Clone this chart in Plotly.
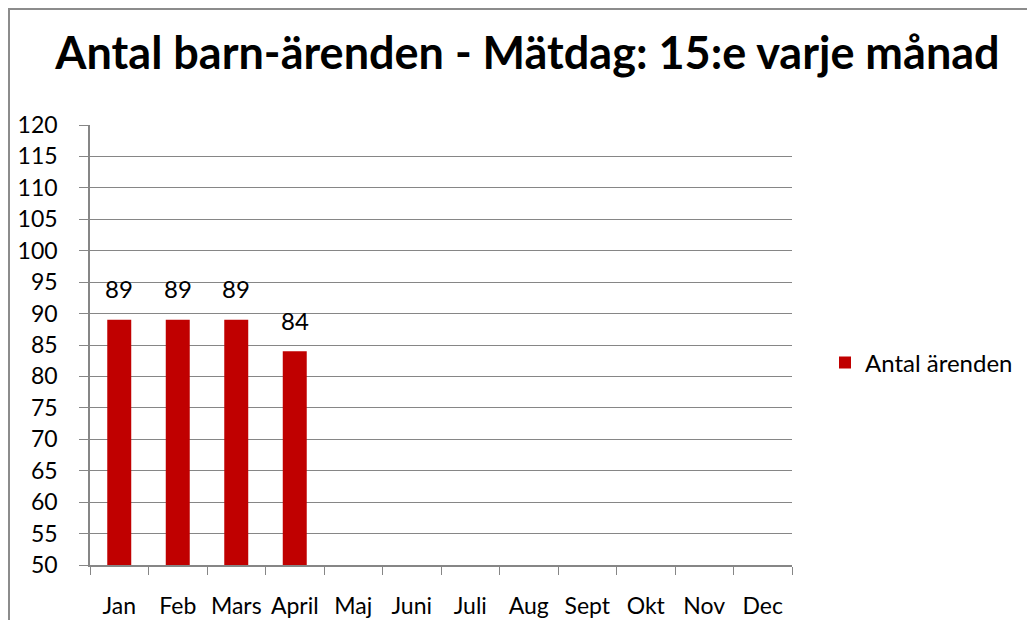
import plotly.graph_objects as go

months = ["Jan", "Feb", "Mars", "April", "Maj", "Juni", "Juli", "Aug", "Sept", "Okt", "Nov", "Dec"]
values = [89, 89, 89, 84, None, None, None, None, None, None, None, None]
labels = ["89", "89", "89", "84", "", "", "", "", "", "", "", ""]
y_ticks = list(range(50, 121, 5))

# page body has an 8px margin, so figure coords = reference coords - 8
W, H = 1027, 612
L, R, T, B = 82, 784, 117, 557

def px(x):
    return (x - L) / (R - L)

def py(y):
    return (B - y) / (B - T)

FONT = "Lato, sans-serif"

fig = go.Figure()
fig.add_trace(go.Bar(
    x=months, y=values, name="Antal ärenden",
    marker=dict(color="#C00000", line=dict(width=0)),
    showlegend=True,
))
for m, v, t in zip(months, values, labels):
    if v is not None and t:
        fig.add_annotation(x=m, y=v, text=t, showarrow=False, yshift=31,
                           xanchor="center", yanchor="middle",
                           font=dict(family=FONT, size=24, color="#000000"))

fig.update_layout(
    width=W, height=H,
    margin=dict(l=L, r=W - R, t=T, b=H - B, autoexpand=False),
    paper_bgcolor="white", plot_bgcolor="white",
    bargap=0.59,
    title=dict(text="<b>Antal barn-ärenden - Mätdag: 15:e varje månad</b>",
               x=519.5 / W, xanchor="center", y=1 - 45 / H, yanchor="middle",
               xref="container", yref="container",
               font=dict(family=FONT, size=45, color="#000000")),
    legend=dict(x=px(817), y=py(355), xanchor="left", yanchor="middle",
                font=dict(family=FONT, size=24, color="#000000"),
                itemwidth=30, bgcolor="rgba(0,0,0,0)"),
    font=dict(family=FONT, size=24, color="#000000"),
)
fig.update_xaxes(
    type="category", showgrid=False, showline=True, linecolor="#868686", linewidth=1.5,
    ticks="outside", ticklen=8, tickcolor="#868686", tickson="boundaries",
    tickfont=dict(family=FONT, size=23, color="#000000"),
    tickangle=0, automargin=False,
    ticklabelstandoff=20,
)
fig.update_yaxes(
    range=[50, 120], tickvals=y_ticks, showgrid=True, gridcolor="#868686", gridwidth=1,
    showline=True, linecolor="#868686", linewidth=1.5,
    ticks="outside", ticklen=9, tickcolor="#868686",
    tickfont=dict(family=FONT, size=23, color="#000000"),
    ticklabelstandoff=17, automargin=False,
    zeroline=False,
)
fig.add_shape(type="rect", xref="paper", yref="paper",
              x0=px(1), x1=px(1045), y0=py(640), y1=py(1),
              line=dict(color="#8c8c8c", width=2), fillcolor="rgba(0,0,0,0)", layer="below")

fig.write_html("out.html")
